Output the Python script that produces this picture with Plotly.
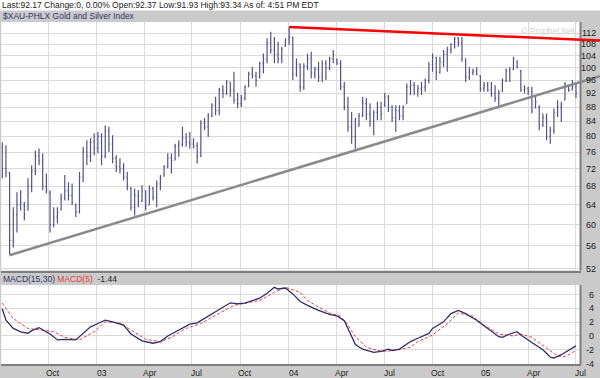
import math
import pandas as pd
import plotly.graph_objects as go

# ---------------- data ----------------
first_week = "2002-07-05"

opens = [77.0,72.0,71.0,57.0,62.0,64.0,64.0,63.0,68.0,71.5,
         75.0,74.0,68.0,66.5,60.0,61.5,63.0,65.5,67.0,66.0,
         64.0,62.5,70.0,76.0,75.0,78.5,77.0,80.0,75.0,81.5,
         78.0,74.5,72.5,72.0,70.0,67.5,63.5,66.0,64.8,67.0,
         64.0,67.5,65.5,68.5,70.3,72.5,74.5,74.0,77.5,78.0,
         79.5,78.5,78.0,77.5,75.0,83.5,82.5,85.5,88.5,87.0,
         93.0,92.0,95.5,93.0,90.0,89.0,90.5,94.0,98.0,97.5,
         97.0,101.5,103.0,108.5,106.0,104.5,103.0,107.5,109.5,110.5,
         98.0,101.0,94.0,100.5,103.0,98.0,99.5,97.0,101.5,100.0,
         103.0,102.5,101.5,94.0,88.0,82.5,80.0,83.0,85.5,89.0,
         86.0,84.0,86.5,88.0,88.5,91.0,88.0,85.0,87.0,85.5,
         89.0,94.0,94.5,92.5,93.5,94.0,96.0,101.0,103.5,98.5,
         102.0,104.5,106.0,108.0,110.0,108.5,103.0,97.0,98.5,99.0,
         97.5,93.5,94.5,93.0,92.0,90.5,92.5,96.0,99.0,99.5,
         102.0,99.0,93.0,93.5,92.5,88.0,88.0,83.0,85.0,80.0,
         81.5,86.5,88.0,90.0,94.5,93.0,94.0]

highs = [78.5,77.7,71.2,63.5,66.7,67.1,64.6,69.8,72.8,76.4,
         76.9,75.7,70.9,67.1,63.5,63.5,66.4,70.5,68.9,68.6,
         64.3,71.2,77.3,79.0,79.5,80.8,81.1,80.8,82.9,82.5,
         80.3,75.2,74.5,73.3,71.2,67.8,67.5,67.1,68.2,67.1,
         68.2,67.8,69.3,70.5,72.8,75.7,75.7,78.1,79.0,82.5,
         80.8,81.1,79.5,78.5,84.3,84.9,86.3,89.1,91.0,93.6,
         94.5,96.1,95.5,98.7,92.1,91.5,94.5,98.7,100.3,98.7,
         102.0,104.8,110.1,112.5,110.6,108.9,107.1,110.1,114.2,110.6,
         103.1,101.5,101.5,104.8,105.4,100.3,102.0,102.5,102.5,103.7,
         106.0,103.1,102.5,95.5,91.0,86.6,84.9,86.3,91.0,90.6,
         89.1,87.1,89.5,89.5,92.1,91.5,88.5,88.5,88.5,88.5,
         95.0,96.1,95.5,94.5,95.5,96.6,102.0,104.8,103.7,103.7,
         106.0,107.1,108.3,110.6,110.6,110.6,103.1,100.3,99.8,100.3,
         97.6,95.5,95.5,95.5,94.5,93.0,96.6,99.8,100.3,103.7,
         102.5,99.3,94.5,94.0,94.0,91.0,88.5,86.2,86.2,82.5,
         87.6,90.0,89.5,95.5,94.5,96.1,95.5]

lows = [69.7,70.0,54.3,55.7,58.5,62.8,60.8,62.8,66.7,70.5,
        72.8,67.1,66.4,58.5,59.5,60.2,62.8,64.9,64.9,63.9,
        61.5,62.2,68.9,72.8,73.6,75.2,75.7,72.8,74.5,76.0,
        73.3,71.2,70.9,69.3,67.1,62.8,61.8,63.5,64.6,62.8,
        63.9,64.9,63.5,67.1,70.1,72.1,70.9,74.0,74.8,77.3,
        77.3,76.8,76.9,73.2,74.8,81.6,79.8,85.2,85.7,85.7,
        90.6,91.5,91.0,89.0,87.7,88.0,90.0,94.0,96.6,94.0,
        96.6,98.2,101.5,104.8,101.5,101.5,101.5,107.1,107.7,96.1,
        97.1,92.5,93.0,99.3,96.6,96.6,95.5,95.5,96.1,99.3,
        101.5,100.9,93.0,87.1,81.2,78.1,76.8,82.5,85.2,84.3,
        82.5,80.3,84.3,84.3,88.0,86.6,83.8,81.1,84.3,84.3,
        89.0,91.5,91.5,91.0,91.5,92.5,95.0,98.7,96.1,98.2,
        100.3,98.7,104.8,106.5,107.1,102.0,95.5,96.1,97.6,97.6,
        92.5,92.5,92.5,91.0,89.5,87.6,92.5,95.5,95.5,99.3,
        99.8,92.5,92.0,91.5,86.2,87.6,81.6,82.5,79.0,78.1,
        80.7,85.2,83.8,90.0,92.5,93.0,90.6]

closes = [72.0,71.0,57.0,62.0,64.0,64.5,62.0,68.0,71.5,75.0,
          74.0,68.0,67.0,60.0,61.5,62.5,65.5,67.0,66.0,64.5,
          62.5,70.0,76.0,75.0,78.5,77.0,80.0,75.0,81.5,78.0,
          74.5,72.5,72.0,70.0,68.0,63.5,66.0,64.5,67.0,64.0,
          67.5,65.5,68.5,70.0,72.5,74.5,74.0,77.5,78.0,79.5,
          78.5,78.0,77.5,75.0,83.5,82.5,85.5,88.5,87.0,93.0,
          92.0,95.5,93.0,90.0,89.0,90.5,94.0,98.0,97.5,96.0,
          101.5,103.0,108.5,106.0,104.5,103.0,106.5,109.5,110.5,98.0,
          101.0,94.0,100.5,103.0,98.0,99.5,97.0,101.5,100.0,103.0,
          104.5,101.5,94.0,88.0,82.5,80.0,83.0,85.5,89.0,86.0,
          84.0,86.5,88.0,86.0,91.0,88.0,85.0,87.0,85.5,88.0,
          94.0,94.5,92.5,93.5,94.0,96.0,101.0,103.5,98.5,102.0,
          104.5,106.0,108.0,110.0,108.5,103.0,97.0,98.5,99.0,98.0,
          93.5,94.5,93.0,92.0,90.5,92.0,96.0,99.0,98.0,103.0,
          100.5,93.0,93.5,92.5,87.0,89.5,83.0,85.0,80.0,81.5,
          86.5,88.0,88.5,94.5,93.0,94.0,92.2]

# MACD(15,30) line, read at these week numbers (0 = first bar)
macd_weeks = [0,1,3,5,7,8,10,11,13,15,17,20,22,24,26,28,30,33,35,38,
              41,43,45,48,51,53,55,58,62,64,66,68,70,72,74,75,77,79,81,83,
              86,89,91,93,94,95,96,97,98,101,103,105,106,108,111,113,116,117,120,122,
              124,126,129,132,135,136,138,140,141,144,147,149,150,152,154,156]
macd_vals = [3.95,2.3,1.1,0.6,0.4,0.77,1.2,0.86,0.3,-0.57,-0.48,-0.57,0.38,1.33,1.81,2.29,2.05,1.57,0.29,-0.71,
             -1.05,-0.81,0.0,0.86,1.71,1.9,2.52,3.48,4.81,4.67,4.76,5.14,5.48,6.19,7.05,6.81,6.95,6.1,5.0,4.43,
             3.71,3.14,2.9,2.2,1.0,0.0,-1.2,-1.6,-1.9,-2.38,-2.24,-1.9,-2.1,-1.9,-0.81,-0.33,0.38,1.1,2.05,3.24,
             3.71,3.24,2.29,1.1,-0.1,-0.19,0.29,0.62,0.14,-0.95,-2.0,-3.05,-3.19,-2.71,-2.1,-1.44]

# MACD(5) signal line
signal_weeks = [0,3,7,10,14,17,21,25,28,32,35,39,43,46,50,54,58,63,66,70,
                74,77,81,83,86,89,92,94,96,99,102,104,108,111,113,117,121,124,128,131,
                135,139,141,144,148,151,153,156]
signal_vals = [4.76,2.52,1.1,0.86,0.62,-0.19,-0.57,0.62,2.05,1.9,0.86,-0.48,-0.81,-0.19,1.1,1.81,3.0,4.43,4.76,5.14,
               6.33,7.05,6.33,5.14,4.19,3.33,2.86,1.57,-0.1,-1.62,-2.1,-2.24,-2.0,-1.62,-0.81,0.14,1.81,3.33,2.86,1.57,
               0.29,0.0,0.29,-0.19,-1.76,-2.9,-3.0,-2.1]

tick_dates = ["2002-10-01","2003-01-01","2003-04-01","2003-07-01","2003-10-01","2004-01-01",
              "2004-04-01","2004-07-01","2004-10-01","2005-01-01","2005-04-01","2005-07-01"]
tick_labels = ["Oct","03","Apr","Jul","Oct","04","Apr","Jul","Oct","05","Apr","Jul"]
price_ticks = [52,56,60,64,68,72,76,80,84,88,92,96,100,104,108,112]
macd_ticks = [-4,-2,0,2,4,6]

support_dates = ["2002-07-19", "2005-08-15"]
support_prices = [54.3, 97.3]
resist_dates = ["2004-01-02", "2005-08-15"]
resist_prices = [114.2, 109.3]

header_text = "Last:92.17 Change:0, 0.00% Open:92.37 Low:91.93 High:93.34 As of: 4:51 PM EDT"
title_text = "$XAU-PHLX Gold and Silver Index"
macd_value_text = "-1.44"

# ---------------- styling / layout ----------------
W, H = 600, 378
FONT = "Arial, Liberation Sans, sans-serif"
GRAY_BG = "#CACACA"
GRID = "#DADADA"
BORDER = "#7E7E7E"
BAR_COLOR = "#52528F"
TXT = "#222222"

x_dom = [0.002, 0.9675]
x_range = ["2002-07-03", "2005-07-09 14:00"]
main_dom = [1 - 270.5 / H, 1 - 22 / H]
macd_dom = [1 - 364 / H, 1 - 285 / H]
price_range = [math.log10(51.67), math.log10(116.1)]
macd_range = [-4.06, 7.39]

week_dates = pd.date_range(start=first_week, periods=len(closes), freq="7D")

fig = go.Figure()
fig.add_trace(go.Ohlc(
    x=week_dates, open=opens, high=highs, low=lows, close=closes,
    increasing=dict(line=dict(color=BAR_COLOR, width=1.2)),
    decreasing=dict(line=dict(color=BAR_COLOR, width=1.2)),
    tickwidth=0.25, xaxis="x", yaxis="y", hoverinfo="skip", showlegend=False))

fig.add_trace(go.Scatter(
    x=[week_dates[i] for i in signal_weeks], y=signal_vals, mode="lines",
    line=dict(color="#E8413C", width=1, dash="3px,2px"),
    xaxis="x2", yaxis="y2", hoverinfo="skip", showlegend=False))
fig.add_trace(go.Scatter(
    x=[week_dates[i] for i in macd_weeks], y=macd_vals, mode="lines",
    line=dict(color="#2E2E6A", width=1.3),
    xaxis="x2", yaxis="y2", hoverinfo="skip", showlegend=False))

# trend lines: drawn in data coordinates, plus their run-out across the price-scale strip
t0 = pd.Timestamp(x_range[0]); t1 = pd.Timestamp(x_range[1])

def paper_to_time(p):
    return t0 + (t1 - t0) * ((p - x_dom[0]) / (x_dom[1] - x_dom[0]))

def trend_price(dates, prices, t):
    d0 = pd.Timestamp(dates[0]); d1 = pd.Timestamp(dates[1])
    f = (t - d0) / (d1 - d0)
    return 10 ** (math.log10(prices[0]) + f * (math.log10(prices[1]) - math.log10(prices[0])))

shapes = []
# white header strip
shapes.append(dict(type="rect", xref="paper", yref="paper", x0=0, x1=1, y0=1 - 10.5 / H, y1=1,
                   fillcolor="white", line=dict(width=0), layer="below"))
# right borders of the two panels
for xr, yr in [("x domain", "y domain"), ("x2 domain", "y2 domain")]:
    shapes.append(dict(type="line", xref=xr, yref=yr, x0=1, x1=1, y0=0, y1=1,
                       line=dict(color=BORDER, width=2), layer="above"))
for dates, prices, color in [(support_dates, support_prices, "#8A8A8A"),
                             (resist_dates, resist_prices, "#FF0000")]:
    shapes.append(dict(type="line", xref="x", yref="y", x0=dates[0], y0=prices[0],
                       x1=dates[1], y1=prices[1], line=dict(color=color, width=2.5), layer="above"))
    pa, pb = x_dom[1], 1.0
    shapes.append(dict(type="line", xref="paper", yref="y",
                       x0=pa, y0=trend_price(dates, prices, paper_to_time(pa)),
                       x1=pb, y1=trend_price(dates, prices, paper_to_time(pb)),
                       line=dict(color=color, width=2.5), layer="above"))

annotations = [
    dict(text=header_text, xref="paper", yref="paper", x=0.0, y=1 - 5.5 / H,
         xanchor="left", yanchor="middle", showarrow=False,
         font=dict(family=FONT, size=8.5, color=TXT)),
    dict(text=title_text, xref="paper", yref="paper", x=0.002, y=1 - 16.5 / H,
         xanchor="left", yanchor="middle", showarrow=False,
         font=dict(family=FONT, size=8.5, color="#33336E")),
    dict(text="© Prophet.Net", xref="paper", yref="paper", x=578 / W, y=1 - 30.5 / H,
         xanchor="right", yanchor="middle", showarrow=False,
         font=dict(family=FONT, size=8.5, color="#D2D2D2")),
    dict(text=('<span style="color:#33336E">MACD(15,30)</span> '
               '<span style="color:#E8413C">MACD(5)</span>  ' + macd_value_text),
         xref="paper", yref="paper", x=0.002, y=1 - 278.5 / H,
         xanchor="left", yanchor="middle", showarrow=False,
         font=dict(family=FONT, size=8.5, color=TXT)),
]
# price scale labels (right-aligned in the right-hand strip)
for v in price_ticks:
    annotations.append(dict(text=str(v), xref="paper", yref="y", x=598 / W, y=math.log10(v),
                            xanchor="right", yanchor="middle", showarrow=False,
                            font=dict(family=FONT, size=9, color=TXT)))
for v in macd_ticks:
    annotations.append(dict(text=str(v), xref="paper", yref="y2", x=596 / W, y=v,
                            xanchor="right", yanchor="middle", showarrow=False,
                            font=dict(family=FONT, size=9, color=TXT)))
# date labels under the MACD panel
for d, lab in zip(tick_dates, tick_labels):
    annotations.append(dict(text=lab, xref="x2", yref="paper", x=d, y=1 - 372.5 / H,
                            xanchor="center", yanchor="middle", xshift=5, showarrow=False,
                            font=dict(family=FONT, size=8.5, color=TXT)))

common_x = dict(type="date", range=x_range, domain=x_dom, tickvals=tick_dates,
                showgrid=True, gridcolor=GRID, gridwidth=1, ticks="", zeroline=False,
                showline=True, linecolor=BORDER, linewidth=2, fixedrange=True,
                showticklabels=False)

fig.update_layout(
    width=W, height=H, margin=dict(l=0, r=0, t=0, b=0),
    paper_bgcolor=GRAY_BG, plot_bgcolor="white", showlegend=False,
    font=dict(family=FONT, size=9, color=TXT),
    xaxis=dict(**common_x, anchor="y", rangeslider=dict(visible=False)),
    xaxis2=dict(**common_x, anchor="y2"),
    yaxis=dict(type="log", range=price_range, domain=main_dom, tickvals=price_ticks,
               anchor="x", side="right", showticklabels=False, showgrid=True,
               gridcolor=GRID, ticks="", showline=False, zeroline=False, fixedrange=True),
    yaxis2=dict(range=macd_range, domain=macd_dom, tickvals=macd_ticks,
                anchor="x2", side="right", showticklabels=False, showgrid=True,
                gridcolor=GRID, ticks="", showline=False, zeroline=False, fixedrange=True),
    shapes=shapes, annotations=annotations,
)

fig.write_html("out.html", config={"displayModeBar": False},
               post_script="document.body.style.margin='0px';document.body.style.overflow='hidden';")
